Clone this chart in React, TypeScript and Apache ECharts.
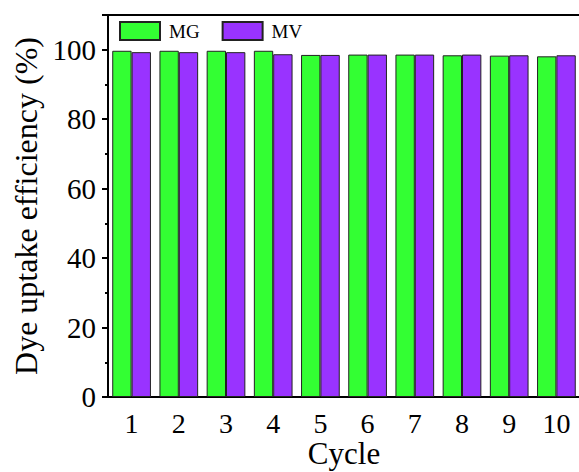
import React, { useEffect, useRef } from "react";
import * as echarts from "echarts";

const cycles = ["1", "2", "3", "4", "5", "6", "7", "8", "9", "10"];
const mgValues = [99.7, 99.7, 99.7, 99.7, 98.5, 98.6, 98.6, 98.4, 98.3, 98.1];
const mvValues = [99.3, 99.3, 99.3, 98.7, 98.5, 98.6, 98.6, 98.6, 98.4, 98.4];
const seriesNames = ["MG", "MV"];
const seriesColors = ["#33ff33", "#9933ff"];

const FONT = "Liberation Serif";

export default function App() {
  const ref = useRef<HTMLDivElement>(null);

  useEffect(() => {
    if (!ref.current) return;
    const chart = echarts.init(ref.current, undefined, { renderer: "svg" });
    const barStyle = (color: string) => ({
      color,
      borderColor: "#222",
      borderWidth: 1,
    });
    chart.setOption({
      animation: false,
      backgroundColor: "#fff",
      grid: {
        left: 108,
        top: 15,
        width: 472,
        height: 382,
        outerBoundsMode: "none",
        containLabel: false,
        show: true,
        borderColor: "#000",
        borderWidth: 2,
        backgroundColor: "transparent",
      },
      legend: {
        left: 119,
        top: 21,
        padding: 0,
        itemWidth: 40,
        itemHeight: 18,
        itemGap: 22,
        icon: "rect",
        data: seriesNames,
        textStyle: {
          fontFamily: FONT,
          fontSize: 19,
          color: "#000",
          padding: [0, 0, 0, 4],
        },
      },
      xAxis: [
        {
          type: "category",
          data: cycles,
          name: "Cycle",
          nameLocation: "middle",
          nameGap: 41,
          nameMoveOverlap: false,
          nameTextStyle: { fontFamily: FONT, fontSize: 31, color: "#000" },
          axisLine: { lineStyle: { color: "#000", width: 2 } },
          axisTick: {
            alignWithLabel: true,
            length: 6,
            lineStyle: { color: "#000", width: 2 },
          },
          axisLabel: {
            fontFamily: FONT,
            fontSize: 28,
            lineHeight: 26,
            color: "#000",
            margin: 13,
          },
          splitLine: { show: false },
        },
        {
          type: "category",
          data: cycles,
          position: "bottom",
          axisLine: { show: false },
          axisTick: { length: 3, lineStyle: { color: "#000", width: 2 } },
          axisLabel: { show: false },
          splitLine: { show: false },
        },
      ],
      yAxis: [
        {
          type: "value",
          min: 0,
          max: 110,
          interval: 20,
          name: "Dye uptake efficiency (%)",
          nameLocation: "middle",
          nameGap: 66,
          nameRotate: 90,
          nameMoveOverlap: false,
          nameTextStyle: { fontFamily: FONT, fontSize: 32, color: "#000" },
          axisLine: { show: true, lineStyle: { color: "#000", width: 2 } },
          axisTick: { show: true, length: 6, lineStyle: { color: "#000", width: 2 } },
          axisLabel: {
            fontFamily: FONT,
            fontSize: 29,
            color: "#000",
            margin: 12,
            formatter: (v: number) => (v > 100 ? "" : String(v)),
          },
          splitLine: { show: false },
        },
        {
          type: "value",
          min: 0,
          max: 110,
          interval: 10,
          position: "left",
          axisLine: { show: false },
          axisTick: { show: true, length: 3, lineStyle: { color: "#000", width: 2 } },
          axisLabel: { show: false },
          splitLine: { show: false },
        },
      ],
      series: [
        {
          name: seriesNames[0],
          type: "bar",
          data: mgValues,
          barGap: "0%",
          barCategoryGap: "18%",
          itemStyle: barStyle(seriesColors[0]),
        },
        {
          name: seriesNames[1],
          type: "bar",
          data: mvValues,
          barGap: "0%",
          barCategoryGap: "18%",
          itemStyle: barStyle(seriesColors[1]),
        },
      ],
    });
    return () => chart.dispose();
  }, []);

  return (
    <div
      ref={ref}
      style={{ position: "fixed", left: 0, top: 0, width: 579, height: 472 }}
    />
  );
}
